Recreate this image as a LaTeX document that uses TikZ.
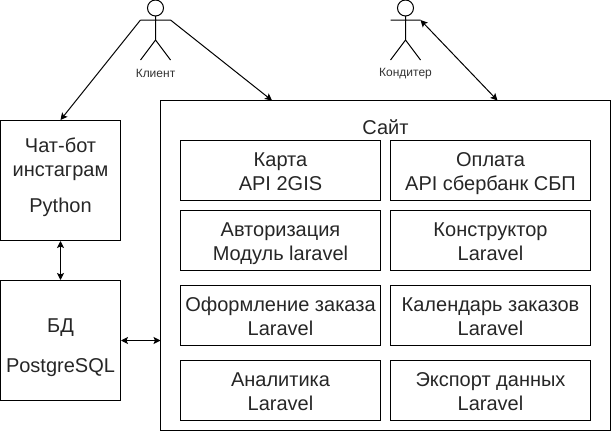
\documentclass[tikz,border=0pt]{standalone}
\usepackage{fontspec}
\setmainfont{Liberation Sans}
\usetikzlibrary{arrows.meta,positioning}

\begin{document}
\begin{tikzpicture}[x=1pt,y=-1pt]
            \tikzset{
                block/.style={draw,line width=1pt,inner sep=0pt,text=black!85,align=center,font=\fontsize{20}{24}\selectfont},
                part/.style={block,minimum width=200pt,minimum height=60pt,text height=39pt,text depth=0pt},
                side/.style={block,minimum width=120pt,minimum height=120pt,text depth=0pt},
                actorname/.style={inner sep=0pt,text=black!80,font=\fontsize{12}{14}\selectfont},
                link/.style={line width=1pt,{Stealth[length=7pt,width=7pt,inset=1.5pt]}-{Stealth[length=7pt,width=7pt,inset=1.5pt]}},
                oneway/.style={line width=1pt,-{Stealth[length=7pt,width=7pt,inset=1.5pt]}},
            }
            \def\myactor#1#2#3{
                \node [draw,line width=1pt,circle,minimum size=16pt,inner sep=0pt] (#1) at (#2,8) {};
                \draw [line width=1pt] (#2,16) -- (#2,40) (#2-15,20) -- (#2+15,20)
                    (#2-15,60) -- (#2,40) -- (#2+15,60);
                \coordinate (#1l) at (#2-15,20);
                \coordinate (#1r) at (#2+15,20);
                \node [actorname] at (#2,73.5) {#3};
            }
            \useasboundingbox (0,0) rectangle (611,431);
            \myactor{client}{155.5}{Клиент}
            \myactor{baker}{405.5}{Кондитер}
            % left column
            \node [side,text height=64.8pt] (bot) at (60.5,180.5) {Чат-бот\\инстаграм\\[12.5pt]Python};
            \node [side,text height=64.4pt] (db) at (60.5,340.5) {БД\\[16pt]PostgreSQL};
            % site with its parts
            \draw [line width=1pt] (160.5,100.5) coordinate (sitetl) rectangle (610.5,430.5) coordinate (sitebr);
            \node [block,draw=none] (site) at (385.5,127) {Сайт};
            \node [part] (map) at (280.5,170.5) {Карта\\API 2GIS};
            \node [part] (pay) at (490.5,170.5) {Оплата\\API сбербанк СБП};
            \node [part] (auth) at (280.5,240.5) {Авторизация\\Модуль laravel};
            \node [part] (build) at (490.5,240.5) {Конструктор\\Laravel};
            \node [part] (order) at (280.5,315.5) {Оформление заказа\\Laravel};
            \node [part] (cal) at (490.5,315.5) {Календарь заказов\\Laravel};
            \node [part] (stats) at (280.5,390.5) {Аналитика\\Laravel};
            \node [part] (export) at (490.5,390.5) {Экспорт данных\\Laravel};
            \coordinate (sitewest) at (160.5,340.5);
            \coordinate (sitein) at (272,100.5);
            \coordinate (sitebaker) at (497.5,100.5);
            \draw [oneway] (clientl) -- (bot.north);
            \draw [oneway] (clientr) -- (sitein);
            \draw [link] (bakerr) -- (sitebaker);
            \draw [link] (bot.south) -- (db.north);
            \draw [link] (db.east) -- (sitewest);
        \end{tikzpicture}
\end{document}
